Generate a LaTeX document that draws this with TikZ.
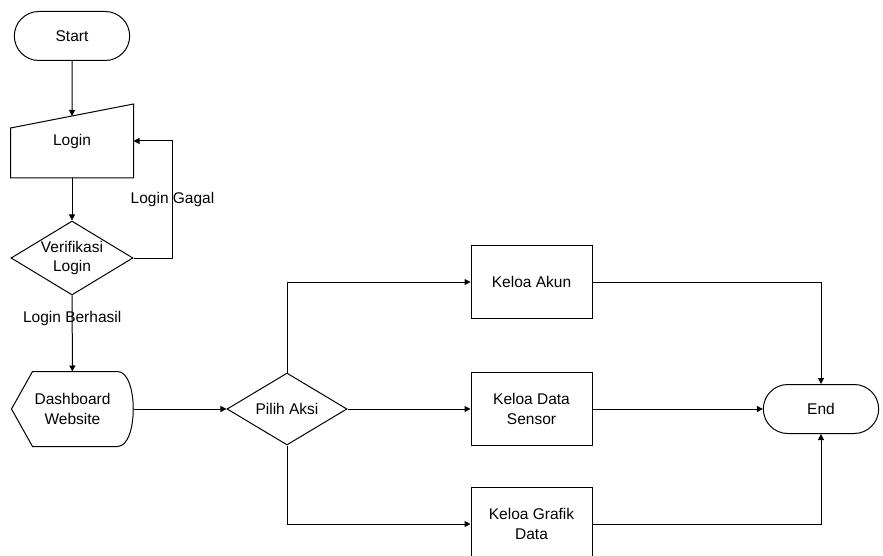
\documentclass[tikz,border=0pt]{standalone}
\usepackage{fontspec}
\setmainfont{Liberation Sans}
\usetikzlibrary{shapes.geometric,shapes.misc,arrows.meta,calc}

\begin{document}
\begin{tikzpicture}[x=1pt, y=1pt, line width=1pt,
  every node/.style={font=\fontsize{15.5}{19.5}\selectfont, align=center},
  terminal/.style={rounded rectangle, draw, minimum width=122pt, minimum height=49pt},
  process/.style={rectangle, draw, minimum width=121pt, minimum height=73pt},
  decision/.style={diamond, draw, aspect=1.65, inner sep=0pt, minimum width=122pt, minimum height=74pt},
  outline/.style={minimum width=122pt, minimum height=73pt},
  flow/.style={-{Triangle[length=6pt,width=6pt]}}]
  \useasboundingbox (0,0) rectangle (883,-556);

  \node[terminal] (start) at (72,-36) {Start};
  \node[outline] (login) at (72,-141) {Login};
  \node[decision] (verif) at (72,-258) {Verifikasi\\Login};
  \node[outline, minimum width=121pt, minimum height=74pt] (dash) at (72.5,-409) {Dashboard\\Website};
  \node[decision, minimum width=120pt, minimum height=72pt] (pilih) at (287,-409) {Pilih Aksi};
  \node[process] (akun) at (531.5,-282) {Keloa Akun};
  \node[process] (sensor) at (531.5,-409) {Keloa Data\\Sensor};
  \node[process] (grafik) at (531.5,-524) {Keloa Grafik\\Data};
  \node[terminal] (end) at (821,-409) {End};

  % manual input and display outlines
  \draw (login.south west) -- (login.south east) -- (login.north east)
    -- ($(login.north west)+(0,-24)$) -- cycle;
  \draw ($(dash.north west)+(21,0)$) -- ($(dash.north east)+(-16,0)$)
    .. controls ($(dash.north east)+(5,0)$) and ($(dash.south east)+(5,0)$) .. ($(dash.south east)+(-16,0)$)
    -- ($(dash.south west)+(21,0)$) -- (dash.west) -- cycle;

  \path[flow]
  (start) edge ($(login.north)+(0,-12)$)
  (login) edge (verif)
  (verif) edge node[pos=0.3] {Login Berhasil} (dash)
  (dash)  edge (pilih)
  (pilih) edge (sensor)
  (sensor) edge (end)
  ;
  \draw[flow] (verif.east) -- ++(39,0) |- node[pos=0.25] {Login Gagal} (login.east);
  \draw[flow] (pilih.north) |- (akun.west);
  \draw[flow] (pilih.south) |- (grafik.west);
  \draw[flow] (akun.east) -| (end.north);
  \draw[flow] (grafik.east) -| (end.south);
\end{tikzpicture}
\end{document}
